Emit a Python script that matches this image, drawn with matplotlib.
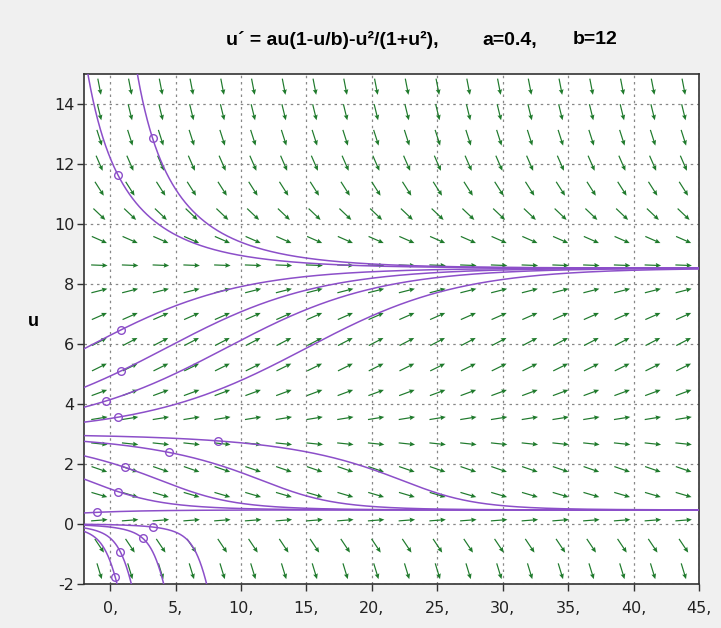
import numpy as np
import matplotlib
matplotlib.use("Agg")
import matplotlib.pyplot as plt

# parameters of the equation
a = 0.4
b = 12.0

# initial points of the solution curves (x0, u0)
x0_list = [0.61, 3.24, 0.82, 0.82, -0.33, 0.60, 8.26, 4.46, 1.12, 0.60, -0.97, 3.24, 2.50, 0.77, 0.38]
u0_list = [11.62, 12.86, 6.47, 5.10, 4.10, 3.56, 2.77, 2.39, 1.89, 1.08, 0.39, -0.10, -0.48, -0.92, -1.76]

x_ticks = [0, 5, 10, 15, 20, 25, 30, 35, 40, 45]
x_tick_labels = ["0,", "5,", "10,", "15,", "20,", "25,", "30,", "35,", "40,", "45,"]
y_ticks = [-2, 0, 2, 4, 6, 8, 10, 12, 14]
y_tick_labels = ["-2", "0", "2", "4", "6", "8", "10", "12", "14"]

title_parts = ["u\u00b4 = au(1-u/b)-u\u00b2/(1+u\u00b2),", "a=0.4,", "b=12"]

xmin, xmax = -2.0, 45.0
ymin, ymax = -2.0, 15.0
n_grid = 20

def f(u):
    return a * u * (1 - u / b) - u**2 / (1 + u**2)

W, H = 721, 628
fig = plt.figure(figsize=(W / 100, H / 100), dpi=100)
fig.patch.set_facecolor("#f0f0f0")
L, R, T, B = 84, 699, 74, 584
ax = fig.add_axes([L / W, 1 - B / H, (R - L) / W, (B - T) / H])
ax.set_facecolor("white")
ax.set_xlim(xmin, xmax)
ax.set_ylim(ymin, ymax)

# direction field
dxc = (xmax - xmin) / n_grid
dyc = (ymax - ymin) / n_grid
xs = xmin + dxc * (np.arange(n_grid) + 0.5)
ys = ymin + dyc * (np.arange(n_grid) + 0.5)
X, Y = np.meshgrid(xs, ys)
kx = (R - L) / (xmax - xmin)
ky = (B - T) / (ymax - ymin)
S = f(Y)
px = np.ones_like(S) * kx
py = S * ky
nrm = np.hypot(px, py)
U = px / nrm
V = py / nrm
ax.quiver(X, Y, U, V, angles="uv", scale_units="inches", scale=1 / 0.165,
          pivot="mid", color="#1f7a2c", units="inches", width=0.012,
          headwidth=4.0, headlength=4.5, headaxislength=4.0, zorder=3)

# solution curves
def integrate(x0, u0, h):
    xs_, us_ = [x0], [u0]
    x, u = x0, u0
    while xmin - 0.5 <= x <= xmax + 0.5 and ymin - 0.5 <= u <= ymax + 0.8:
        k1 = f(u)
        k2 = f(u + 0.5 * h * k1)
        k3 = f(u + 0.5 * h * k2)
        k4 = f(u + h * k3)
        u = u + h * (k1 + 2 * k2 + 2 * k3 + k4) / 6
        x = x + h
        xs_.append(x)
        us_.append(u)
    return xs_, us_

curve_color = "#8c4fc9"
for x0, u0 in zip(x0_list, u0_list):
    xf, uf = integrate(x0, u0, 0.01)
    xb, ub = integrate(x0, u0, -0.01)
    xx = np.array(xb[::-1] + xf[1:])
    uu = np.array(ub[::-1] + uf[1:])
    ax.plot(xx, uu, color=curve_color, lw=1.1, zorder=4)
    ax.plot([x0], [u0], "o", ms=5.5, mfc="none", mec=curve_color, mew=1.0, zorder=5)

# grid and ticks
ax.set_xticks(x_ticks)
ax.set_xticklabels(x_tick_labels)
ax.set_yticks(y_ticks)
ax.set_yticklabels(y_tick_labels)
ax.grid(True, linestyle=(0, (2, 3)), color="#888888", lw=0.9)
ax.tick_params(direction="out", length=5, width=1, colors="#333333",
               labelsize=11.5, labelcolor="#222222")
ax.tick_params(axis="x", pad=7)
ax.tick_params(axis="y", pad=2)
for sp in ax.spines.values():
    sp.set_color("#333333")
    sp.set_linewidth(1.2)
ax.set_axisbelow(True)

fig.text(33 / W, 1 - 322 / H, "u", fontsize=13, fontweight="bold",
         ha="center", va="center", family="Liberation Sans")

for txt, xl in zip(title_parts, [226, 482, 573]):
    fig.text(xl / W, 1 - 40 / H, txt, ha="left", va="center", fontsize=14,
             fontweight="bold", family="Liberation Sans")

fig.savefig("out.png", dpi=100, facecolor=fig.get_facecolor())
